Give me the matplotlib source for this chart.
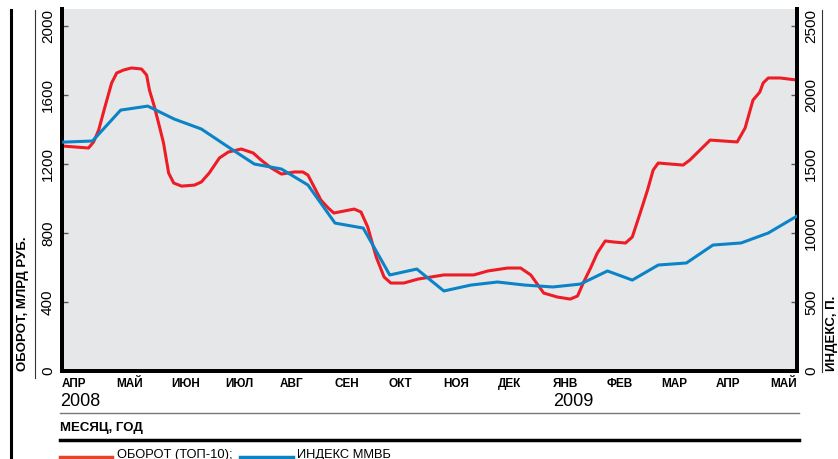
import numpy as np
import matplotlib
matplotlib.use("Agg")
import matplotlib.pyplot as plt
from matplotlib.lines import Line2D

plt.rcParams['font.family'] = ['Liberation Sans', 'DejaVu Sans']

# months since APR 2008
months = ['АПР', 'МАЙ', 'ИЮН', 'ИЮЛ', 'АВГ', 'СЕН', 'ОКТ',
          'НОЯ', 'ДЕК', 'ЯНВ', 'ФЕВ', 'МАР', 'АПР', 'МАЙ']

# turnover (top-10), bn rub, left axis
turn_x = [0.00, 0.44, 0.53, 0.62, 0.73, 0.85, 0.94, 1.06, 1.20, 1.38, 1.47, 1.52,
          1.61, 1.70, 1.77, 1.86, 1.95, 2.09, 2.32, 2.44, 2.58, 2.76, 2.92, 3.15,
          3.36, 3.50, 3.68, 3.86, 4.09, 4.24, 4.33, 4.44, 4.56, 4.69, 4.79, 5.15,
          5.27, 5.39, 5.54, 5.68, 5.80, 6.03, 6.28, 6.51, 6.74, 7.27, 7.52, 7.87,
          8.10, 8.28, 8.51, 8.75, 8.98, 9.11, 9.21, 9.34, 9.46, 9.60, 9.75, 9.96,
          10.08, 10.22, 10.35, 10.45, 10.54, 10.98, 11.10, 11.46, 11.94, 12.08,
          12.22, 12.34, 12.40, 12.49, 12.70, 13.00]
turn_y = [1304, 1293, 1328, 1397, 1530, 1670, 1728, 1745, 1757, 1751, 1716, 1629,
          1530, 1414, 1322, 1148, 1090, 1072, 1078, 1096, 1148, 1235, 1270, 1287,
          1264, 1223, 1177, 1142, 1154, 1154, 1136, 1067, 991, 945, 916, 939,
          922, 835, 661, 545, 510, 510, 533, 545, 557, 557, 580, 597,
          597, 557, 452, 429, 417, 435, 510, 597, 684, 754, 748, 742,
          777, 916, 1049, 1165, 1206, 1194, 1223, 1339, 1328, 1409,
          1571, 1617, 1670, 1699, 1699, 1687]

# MICEX index, points, right axis
idx_x = [0.00, 0.51, 1.01, 1.49, 1.96, 2.44, 2.92, 3.38, 3.86, 4.33, 4.81, 5.31,
         5.78, 6.26, 6.74, 7.22, 7.69, 8.17, 8.67, 9.16, 9.64, 10.08, 10.54,
         11.04, 11.51, 12.01, 12.49, 13.00]
idx_y = [1659, 1667, 1891, 1920, 1826, 1754, 1623, 1500, 1464, 1348, 1072, 1036,
         696, 739, 580, 623, 645, 623, 609, 630, 725, 659, 768,
         783, 913, 928, 1000, 1123]

RED = '#ee1c25'
BLUE = '#0a84c6'
BG = '#e6e7e9'

W, H = 838, 459
fig = plt.figure(figsize=(W / 100, H / 100), dpi=100)

def fx(px):
    return px / W

def fy(py):
    return 1 - py / H

ax = fig.add_axes([fx(62), fy(371), fx(797) - fx(62), fy(9) - fy(371)])
ax.set_facecolor(BG)
ax2 = ax.twinx()

ax.plot(turn_x, turn_y, color=RED, lw=2.2, solid_joinstyle='round', zorder=3)
ax2.plot(idx_x, idx_y, color=BLUE, lw=2.2, solid_joinstyle='round', zorder=3)

ax.set_xlim(0, 13)
ax.set_ylim(0, 2099)
ax2.set_ylim(0, 2099 * 1.25)

for a in (ax, ax2):
    a.spines['top'].set_visible(False)
    for s in ('left', 'right', 'bottom'):
        a.spines[s].set_linewidth(2.8)
        a.spines[s].set_color('black')

ax.set_yticks([0, 400, 800, 1200, 1600, 2000])
ax2.set_yticks([0, 500, 1000, 1500, 2000, 2500])
ax.tick_params(axis='y', direction='in', length=4, width=1, color='#555555',
               labelsize=11, pad=5)
ax2.tick_params(axis='y', direction='in', length=4, width=1, color='#555555',
                labelsize=11, pad=5)
for t in ax.get_yticklabels() + ax2.get_yticklabels():
    t.set_rotation(90)
    t.set_va('center')

# month labels spread from left edge to right edge
step = (13 - 0.44) / 13
ax.set_xticks([k * step - 0.03 for k in range(len(months))])
ax.set_xticklabels(months, ha='left', fontweight='bold', fontsize=8.5)
ax.tick_params(axis='x', length=0, pad=5)

fig.text(fx(60), fy(393), '2008', fontsize=13, va='top', ha='left')
fig.text(fx(553), fy(393), '2009', fontsize=13, va='top', ha='left')
fig.text(fx(60), fy(434), 'МЕСЯЦ, ГОД', fontsize=9.5, fontweight='bold',
         va='bottom', ha='left')

fig.text(fx(23), fy(371), 'ОБОРОТ, МЛРД РУБ.', rotation=90, fontsize=9.5,
         fontweight='bold', va='bottom', ha='center')
fig.text(fx(832), fy(371), 'ИНДЕКС, П.', rotation=90, fontsize=9.5,
         fontweight='bold', va='bottom', ha='center')

# decorative rules
fig.add_artist(Line2D([fx(60), fx(799)], [fy(413), fy(413)], color='#777777', lw=1))
fig.add_artist(Line2D([fx(60), fx(799)], [fy(440), fy(440)], color='black', lw=2.5))
fig.add_artist(Line2D([fx(11), fx(11)], [fy(10), fy(459)], color='black', lw=2.2))
fig.add_artist(Line2D([fx(35), fx(35)], [fy(10), fy(378)], color='#333333', lw=0.8))
fig.add_artist(Line2D([fx(822), fx(822)], [fy(10), fy(372)], color='#333333', lw=0.8))

# legend (cut by the lower edge, as in the source)
fig.add_artist(Line2D([fx(60), fx(112)], [fy(456.5), fy(456.5)], color='#e8412c', lw=2.5))
fig.text(fx(117), fy(449), 'ОБОРОТ (ТОП-10);', fontsize=9.3, va='top', ha='left')
fig.add_artist(Line2D([fx(240), fx(293)], [fy(456.5), fy(456.5)], color=BLUE, lw=2.5))
fig.text(fx(297), fy(449), 'ИНДЕКС ММВБ', fontsize=9.3, va='top', ha='left')

fig.savefig('out.png', dpi=100)
